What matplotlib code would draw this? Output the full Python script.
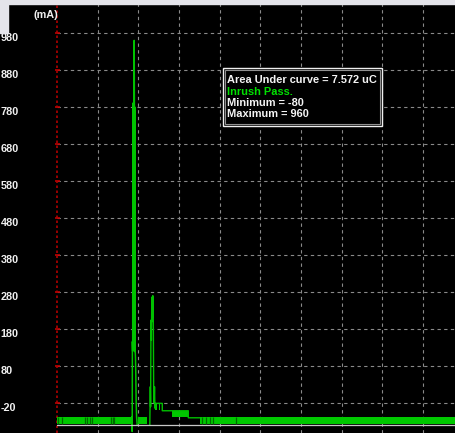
import matplotlib
matplotlib.use("Agg")
import matplotlib.pyplot as plt
from matplotlib.patches import Rectangle

plt.rcParams['font.family'] = ['Liberation Sans', 'DejaVu Sans']

# ---- data ----
y_ticks = [-20, 80, 180, 280, 380, 480, 580, 680, 780, 880, 980]
y_tick_labels = ["-20", "80", "180", "280", "380", "480", "580", "680", "780", "880", "980"]
y_unit = "(mA)"
x_grid = [1, 2, 3, 4, 5, 6, 7, 8, 9]

# main inrush signal (time in grid divisions, current in mA)
spike1_t = [1.840, 1.850, 1.855, 1.862, 1.866, 1.870, 1.874, 1.877, 1.881, 1.884, 1.888,
            1.892, 1.896, 1.899, 1.904, 1.909, 1.913, 1.916, 1.920, 1.924, 1.931,
            1.939, 1.948, 1.958, 1.973]
spike1_v = [-58, -97, 146, 120, 790, 150, 790, 150, 790, 150, 790,
            200, 790, 960, 790, 120, 780, 119, 700, 119, 100,
            53, -20, -58, -80]
spike2_t = [2.283, 2.295, 2.303, 2.312, 2.322, 2.332, 2.338, 2.344, 2.350, 2.357, 2.369, 2.379,
            2.389, 2.399, 2.409, 2.418, 2.590, 2.590, 3.230, 3.230, 3.518]
spike2_v = [-80, 24, -30, 204, 150, 266, 200, 266, 210, 270, 200, 2,
            -20, 24, -34, -21, -21, -41, -41, -60, -60]

# noise bands (t_start, t_end, low, high)
band_t0 = [0.000, 1.988, 2.418, 2.500, 2.829, 3.518]
band_t1 = [1.845, 2.207, 2.460, 2.530, 3.230, 9.791]
band_lo = [-78, -78, -39, -39, -58, -78]
band_hi = [-58, -58, -21, -21, -41, -58]

dark_stripes = [0.03, 0.12, 0.69, 0.73, 0.81, 0.85, 1.32, 1.37, 1.40, 3.56, 3.66, 3.77, 3.83, 4.41]

baseline = -80
info_lines = ["Area Under curve = 7.572 uC", "Inrush Pass.", "Minimum = -80", "Maximum = 960"]
info_colors = ["#f4f4f4", "#00e000", "#f4f4f4", "#f4f4f4"]

# ---- figure ----
W, H = 455, 433
fig = plt.figure(figsize=(W / 100, H / 100), dpi=100, facecolor='black')
ax = fig.add_axes([57 / W, 0, 398 / W, 429 / H])
ax.set_facecolor('black')
ax.set_xlim(0, 398 / 40.65)
ax.set_ylim(-101.1, 1058.4)
for s in ax.spines.values():
    s.set_visible(False)
ax.set_xticks([])
ax.set_yticks(y_ticks)
ax.tick_params(axis='y', direction='inout', length=3.6, width=1.2, color='#c00000',
               labelleft=False)

grid_kw = dict(color='#8a8a8a', lw=0.8, ls=(0, (3, 3)), zorder=1)
ax.hlines(y_ticks, 0, 398 / 40.65, **grid_kw)
ax.vlines(x_grid, -101.1, 1058.4, **grid_kw)
ax.axvline(0, color='#b00000', lw=1.2, ls=(0, (1.5, 1.5)), zorder=2, clip_on=False)

# bands
for t0, t1, lo, hi in zip(band_t0, band_t1, band_lo, band_hi):
    ax.fill_between([t0, t1], [lo, lo], [hi, hi], color='#00c800', lw=0, zorder=3)
ax.vlines(dark_stripes, -78, -58, color='#006a00', lw=0.9, zorder=4)

# signal
ax.plot(spike1_t, spike1_v, color='#00c400', lw=1.1, zorder=5)
ax.plot(spike2_t, spike2_v, color='#00c000', lw=1.0, zorder=5)
ax.axhline(baseline, color='#c8c8c8', lw=0.9, zorder=6)

# y labels
for v, lbl in zip(y_ticks, y_tick_labels):
    ax.annotate(lbl, xy=(0, v), xycoords=('figure fraction', 'data'),
                xytext=(0.5, -8.4), textcoords='offset pixels',
                ha='left', va='baseline', color='#f0f0f0', fontsize=7.8,
                fontweight='bold', annotation_clip=False)
fig.text(33 / W, 1 - 18 / H, y_unit, color='#f0f0f0', fontsize=7.8,
         fontweight='bold', ha='left', va='baseline')

# light strips of the window frame
fig.patches.append(Rectangle((0, 1 - 3.5 / H), 1, 3.5 / H, transform=fig.transFigure,
                             color='#e4e4ea', zorder=10))
fig.patches.append(Rectangle((0, 1 - 33 / H), 8 / W, 33 / H, transform=fig.transFigure,
                             color='#e4e4ea', zorder=10))

# info box
def fx(px):
    return px / W

def fy(py):
    return 1 - py / H

fig.patches.append(Rectangle((fx(222.7), fy(125.7)), fx(381.7) - fx(222.7), fy(68.3) - fy(125.7),
                             transform=fig.transFigure, facecolor='black',
                             edgecolor='#f0f0f0', lw=1.0, zorder=20))
fig.patches.append(Rectangle((fx(224.7), fy(123.7)), fx(379.7) - fx(224.7), fy(70.3) - fy(123.7),
                             transform=fig.transFigure, facecolor='none',
                             edgecolor='#909090', lw=0.8, zorder=21))
baselines = [82.7, 95.3, 106.3, 117.3]
for txt, c, b in zip(info_lines, info_colors, baselines):
    fig.text(fx(226.7), fy(b), txt, color=c, fontsize=7.9, fontweight='bold',
             ha='left', va='baseline', zorder=22)

fig.savefig('out.png', dpi=100, facecolor='black')
